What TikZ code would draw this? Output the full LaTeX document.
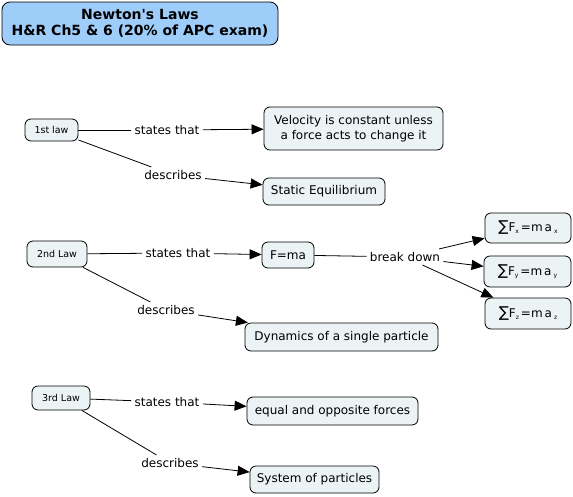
\documentclass[tikz,border=0pt]{standalone}
\usepackage{fontspec}
\setmainfont{DejaVu Sans}
\usetikzlibrary{arrows.meta}
\definecolor{conceptfill}{HTML}{EBF3F5}
\definecolor{titlefill}{HTML}{9FCDFA}

\newcommand{\bigsum}{{\fontsize{15}{15}\selectfont ∑}}
\newcommand{\lowsub}[1]{\raisebox{-0.3ex}{\fontsize{6}{6}\selectfont #1}}

\tikzset{
  concept/.style={draw, rounded corners=6pt, fill=conceptfill, inner xsep=5pt, inner ysep=3pt,
    align=center, font=\fontsize{12}{15}\selectfont},
  lawbox/.style={concept, font=\fontsize{9.5}{11}\selectfont},
  boxsize/.style 2 args={minimum width=#1, minimum height=#2},
  linkword/.style={inner sep=3pt, font=\fontsize{12}{14}\selectfont},
  link/.style={-{Triangle[length=12pt,width=10pt]}},
}

\begin{document}
\begin{tikzpicture}[x=1pt, y=-1pt, line width=0.8pt]
    \useasboundingbox (0,0) rectangle (573,496);

    % 1. Title
    \node[concept, fill=titlefill, rounded corners=8pt, boxsize={276pt}{43pt},
          font=\fontsize{14}{16}\selectfont\bfseries] (title) at (140,23.5)
          {Newton\textquotesingle s Laws\\H\&R Ch5 \& 6 (20\% of APC exam)};

    % 2. First law
    \node[lawbox, boxsize={53pt}{22pt}] (law1) at (51.5,130) {1st law};
    \node[linkword] (st1) at (167,130) {states that};
    \node[concept, boxsize={179pt}{43pt}] (velo) at (353.5,128.5) {Velocity is constant unless\\a force acts to change it};
    \node[linkword] (de1) at (173,175) {describes};
    \node[concept, boxsize={122pt}{27pt}] (stat) at (324,191.5) {Static Equilibrium};

    \draw (law1) -- (st1);
    \draw[link] (st1) -- (velo);
    \draw (law1) -- (de1);
    \draw[link] (de1) -- (stat);

    % 3. Second law
    \node[lawbox, boxsize={60pt}{26pt}] (law2) at (57,254) {2nd Law};
    \node[linkword] (st2) at (178,253) {states that};
    \node[concept, boxsize={52pt}{26pt}] (fma) at (288,255) {F=ma};
    \node[linkword] (brk) at (405,257) {break down};
    \node[concept, boxsize={86pt}{30pt}] (sumx) at (528,228) {\bigsum F\lowsub{x}\,=m\,a\,\lowsub{x}};
    \node[concept, boxsize={87pt}{31pt}] (sumy) at (527.5,271.5) {\bigsum F\lowsub{y}\,=m\,a\,\lowsub{y}};
    \node[concept, boxsize={86pt}{31pt}] (sumz) at (528,313.5) {\bigsum F\lowsub{z}\,=m\,a\,\lowsub{z}};
    \node[linkword] (de2) at (166,310) {describes};
    \node[concept, boxsize={193pt}{28pt}] (dyn) at (341.5,337) {Dynamics of a single particle};

    \draw (law2) -- (st2);
    \draw[link] (st2) -- (fma);
    \draw (fma) -- (brk);
    \draw[link] (brk) -- (sumx);
    \draw[link] (brk) -- (sumy);
    \draw[link] (brk) -- (sumz);
    \draw (law2) -- (de2);
    \draw[link] (de2) -- (dyn);

    % 4. Third law
    \node[lawbox, boxsize={58pt}{24pt}] (law3) at (61,398) {3rd Law};
    \node[linkword] (st3) at (167,402) {states that};
    \node[concept, boxsize={171pt}{28pt}] (eqop) at (332.5,411) {equal and opposite forces};
    \node[linkword] (de3) at (170,463) {describes};
    \node[concept, boxsize={129pt}{27pt}] (sys) at (314.5,479.5) {System of particles};

    \draw (law3) -- (st3);
    \draw[link] (st3) -- (eqop);
    \draw (law3) -- (de3);
    \draw[link] (de3) -- (sys);
\end{tikzpicture}
\end{document}
